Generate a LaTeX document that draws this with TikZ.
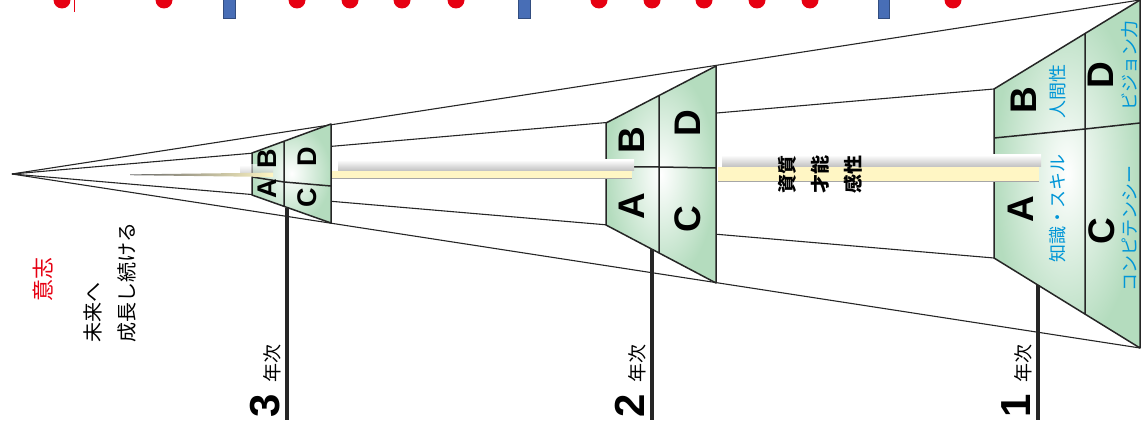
\documentclass[tikz,border=0pt]{standalone}
\usepackage{fontspec}
\setmainfont{Liberation Sans}
\newfontfamily\jp{Noto Sans CJK JP}
\usepackage{tikz}
\definecolor{cellgreen}{RGB}{180,220,190}
\definecolor{labelblue}{RGB}{0,150,215}
\definecolor{willred}{RGB}{230,0,18}
\definecolor{barcream}{RGB}{255,246,196}
\definecolor{markblue}{RGB}{72,110,182}
\tikzstyle{ray} = [line width=1.1pt, black!85]
\tikzstyle{trapline} = [line width=1.5pt, black!85, line join=round]
\tikzstyle{yearline} = [line width=3.2pt, black!85]
\tikzstyle{cell} = [inner color=white, outer color=cellgreen]
\tikzstyle{bigletter} = [rotate=90, inner sep=0pt, font=\fontsize{37}{37}\selectfont\bfseries]
\tikzstyle{smallletter} = [rotate=90, inner sep=0pt, font=\fontsize{27}{27}\selectfont\bfseries]
\tikzstyle{bluelabel} = [rotate=90, inner sep=0pt, text=labelblue, font=\jp\fontsize{18}{18}\selectfont]
\tikzstyle{yearlabel} = [rotate=90, anchor=base west, inner sep=0pt, font=\fontsize{42}{42}\selectfont\bfseries]
\tikzstyle{barshade} = [top color=white, bottom color=black!25]
\tikzstyle{baredge} = [line width=0.8pt, black!35]

\begin{document}
\begin{tikzpicture}[x=1pt, y=-1pt]
        \useasboundingbox (0,0) rectangle (1141,427);
        \clip (0,0) rectangle (1141,427);

        % Marks cut by the top edge
        \fill[willred] (62,0) circle (8.5) (164,0) circle (8.5) (297,0) circle (8.5) (350,0) circle (8.5)
            (402,0) circle (8.5) (456,0) circle (8.5) (599,0) circle (8.5) (652,0) circle (8.5)
            (704,0) circle (8.5) (757,0) circle (8.5) (810,0) circle (8.5) (953,0) circle (8.5);
        \draw[willred, line width=0.8pt] (74,0) -- (74,12);
        \filldraw[fill=markblue, draw=markblue!70!black, line width=0.8pt] (223,-2) rectangle (235,18) (518,-2) rectangle (530,18) (878,-2) rectangle (889,18);

        % Apex and corners
        \coordinate (apex) at (12,174);
        \coordinate (t1tl) at (994,89);
        \coordinate (t1bl) at (994,258);
        \coordinate (t1tr) at (1140,0);
        \coordinate (t1br) at (1140,348);
        \coordinate (t1mt) at (1085,33);
        \coordinate (t1mb) at (1085,314);
        \coordinate (t1ml) at (994,138);
        \coordinate (t1mm) at (1085,129);
        \coordinate (t1mr) at (1140,123);

        \coordinate (t2tl) at (606,123);
        \coordinate (t2bl) at (606,225);
        \coordinate (t2tr) at (716,66);
        \coordinate (t2br) at (716,283);
        \coordinate (t2mt) at (659,95);
        \coordinate (t2mb) at (659,253);
        \coordinate (t2ml) at (606,167);
        \coordinate (t2mm) at (659,167);
        \coordinate (t2mr) at (716,168);

        \coordinate (t3tl) at (252,153);
        \coordinate (t3bl) at (252,195);
        \coordinate (t3tr) at (331,124);
        \coordinate (t3br) at (331,223);
        \coordinate (t3mt) at (284,141);
        \coordinate (t3mb) at (284,207);
        \coordinate (t3ml) at (252,177);
        \coordinate (t3mm) at (284,182);
        \coordinate (t3mr) at (331,186);

        % Rays from the apex
        \draw[ray] (apex) -- (t1tr);
        \draw[ray] (apex) -- (t1br);
        \draw[ray] (apex) -- (t1tl);
        \draw[ray] (apex) -- (t1bl);

        % 3rd year
        \shade[cell] (t3tl) -- (t3tr) -- (t3br) -- (t3bl) -- cycle;
        \draw[trapline] (t3tl) -- (t3tr) -- (t3br) -- (t3bl) -- cycle (t3mt) -- (t3mb) (t3ml) -- (t3mm) -- (t3mr);

        % 2nd year
        \shade[cell] (t2tl) -- (t2tr) -- (t2br) -- (t2bl) -- cycle;
        \draw[trapline] (t2tl) -- (t2tr) -- (t2br) -- (t2bl) -- cycle (t2mt) -- (t2mb) (t2ml) -- (t2mm) -- (t2mr);

        % 1st year
        \shade[cell] (t1tl) -- (t1tr) -- (t1br) -- (t1bl) -- cycle;
        \draw[trapline] (t1tl) -- (t1tr) -- (t1br) -- (t1bl) -- cycle (t1mt) -- (t1mb) (t1ml) -- (t1mm) -- (t1mr);

        % Year lines
        \coordinate (y3top) at (287,208);
        \coordinate (y3end) at (287,420);
        \coordinate (y2top) at (652,249);
        \coordinate (y2end) at (652,420);
        \coordinate (y1top) at (1038,285);
        \coordinate (y1end) at (1038,420);
        \draw[yearline] (y3top) -- (y3end);
        \draw[yearline] (y2top) -- (y2end);
        \draw[yearline] (y1top) -- (y1end);

        % Bars
        \shade[barshade, opacity=0.6] (240,165) rectangle (273,173);
        \shade[left color=black!60, right color=barcream] (130,174.4) -- (273,172.6) -- (273,177) -- (130,175.2) -- cycle;
        \shade[barshade] (338,160) rectangle (634,171);
        \fill[barcream] (332,171) rectangle (632,178);
        \draw[baredge] (332,178) -- (632,178);
        \shade[barshade] (722,155) rectangle (1041,167);
        \fill[barcream] (718,167) rectangle (1039,181);
        \draw[baredge] (718,181) -- (1039,181);

        % Letters
        \node[smallletter] (b3) at (267,159) {B};
        \node[smallletter] (a3) at (267,189) {A};
        \node[smallletter] (d3) at (307,157) {D};
        \node[smallletter] (c3) at (307,198) {C};
        \node[bigletter] (b2) at (632,140) {B};
        \node[bigletter] (a2) at (632,206) {A};
        \node[bigletter] (d2) at (688,123) {D};
        \node[bigletter] (c2) at (688,219) {C};
        \node[bigletter] (b1) at (1024,100) {B};
        \node[bigletter] (a1) at (1021,209) {A};
        \node[bigletter] (d1) at (1101,75) {D};
        \node[bigletter] (c1) at (1102,231) {C};

        % Labels in the 1st year
        \node[bluelabel] (human) at (1058,92) {人間性};
        \node[bluelabel] (skill) at (1058,209) {知識・スキル};
        \node[bluelabel] (vision) at (1130,66) {ビジョン力};
        \node[bluelabel] (competency) at (1130,229) {コンピテンシー};

        % Texts
        \node[rotate=90, align=center, inner sep=0pt, font=\jp\bfseries\fontsize{19}{33}\selectfont] (talent) at (820,175) {資質\\才能\\感性};
        \node[rotate=90, inner sep=0pt, text=willred, font=\jp\fontsize{22}{22}\selectfont] (will) at (43,280) {意志};
        \node[rotate=90, anchor=north west, align=left, inner sep=0pt, font=\jp\fontsize{20}{34}\selectfont] (future) at (83,343) {未来へ\\成長し続ける};

        % Year labels
        \node[yearlabel] (year3) at (279,418) {3\hspace{12pt}{\mdseries\jp\fontsize{19}{19}\selectfont 年次}};
        \node[yearlabel] (year2) at (644,418) {2\hspace{12pt}{\mdseries\jp\fontsize{19}{19}\selectfont 年次}};
        \node[yearlabel] (year1) at (1030,418) {1\hspace{12pt}{\mdseries\jp\fontsize{19}{19}\selectfont 年次}};
\end{tikzpicture}
\end{document}
